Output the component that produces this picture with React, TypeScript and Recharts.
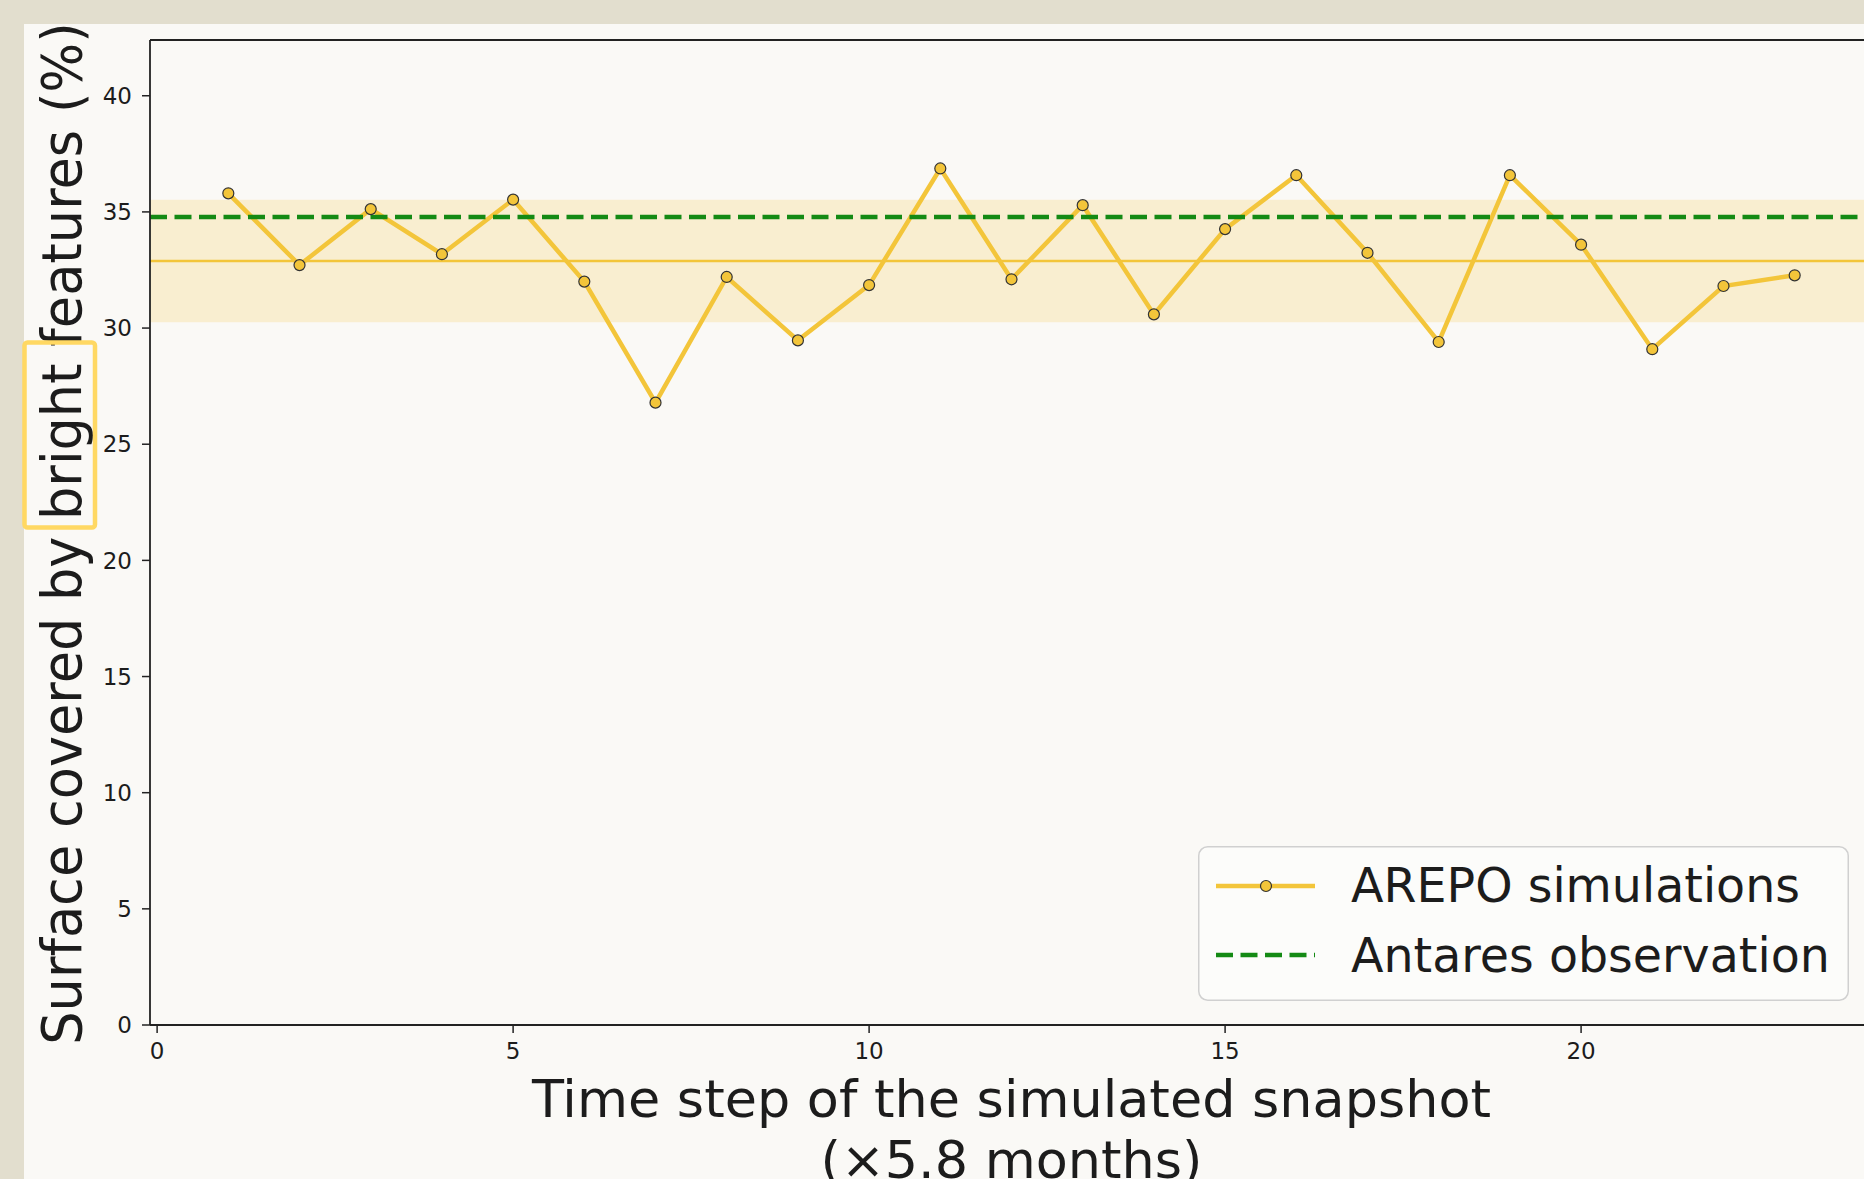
import React from 'react';
import { LineChart, Line, XAxis, YAxis, ReferenceLine, ReferenceArea, Legend } from 'recharts';

// time steps of the simulated snapshots (x 5.8 months)
const steps = [1, 2, 3, 4, 5, 6, 7, 8, 9, 10, 11, 12, 13, 14, 15, 16, 17, 18, 19, 20, 21, 22, 23];
// percentage of the surface covered by bright features
const brightCover = [
    35.80, 32.71, 35.12, 33.18, 35.53, 32.00, 26.79, 32.20, 29.47, 31.85, 36.87, 32.10,
    35.29, 30.59, 34.26, 36.58, 33.24, 29.40, 36.58, 33.59, 29.09, 31.81, 32.27,
];
const simMean = 32.89;
const simBand = [30.25, 35.52];
const antaresValue = 34.78;

const xTicks = [0, 5, 10, 15, 20];
const yTicks = [0, 5, 10, 15, 20, 25, 30, 35, 40];
const xDomain = [-0.1, 24.1];
const yDomain = [0, 42.4];

const rows = steps.map((step, i) => ({ step, value: brightCover[i] }));

const FONT = '"DejaVu Sans", sans-serif';
const GOLD = '#F3C53A';
const GREEN = '#148A14';
const INK = '#1c1c1c';
const AXIS = '#222222';

const YTitle = (props: any) => {
    const vb = props.viewBox ?? { x: 0, y: 40, width: 150, height: 985 };
    const cx = vb.x + 81;
    const cy = vb.y + vb.height / 2 + 1;
    return (
        <g>
            <text
                x={0}
                y={0}
                transform={`translate(${cx} ${cy}) rotate(-90) scale(1 1.04)`}
                textAnchor="middle"
                fontFamily={FONT}
                fontSize={52.5}
                fill={INK}
            >
                Surface covered by bright features (%)
            </text>
            {/* highlight around "bright" */}
            <rect x={vb.x + 24.5} y={cy - 191} width={70.5} height={185} rx={3} fill="none" stroke="#FFD863" strokeWidth={4.5} />
        </g>
    );
};

const XTitle = (props: any) => {
    const vb = props.viewBox ?? { x: 150, y: 1025, width: 1723, height: 154 };
    const cx = vb.x + vb.width / 2;
    return (
        <g fontFamily={FONT} fontSize={52.4} fill={INK}>
            <text x={cx} y={vb.y + 92} textAnchor="middle">Time step of the simulated snapshot</text>
            <text x={cx} y={vb.y + 153} textAnchor="middle">(×5.8 months)</text>
        </g>
    );
};

const LegendBox = () => (
    <svg width={651} height={155} style={{ display: 'block' }}>
        <rect x={0.75} y={0.75} width={649.5} height={153.5} rx={9} fill="#FCFCFA" stroke="#D0D0D0" strokeWidth={1.5} />
        <line x1={18} x2={117} y1={40} y2={40} stroke={GOLD} strokeWidth={4.5} />
        <circle cx={68} cy={40} r={5.5} fill={GOLD} stroke="#333" strokeWidth={1.2} />
        <text x={153} y={56} fontFamily={FONT} fontSize={47.5} fill={INK}>AREPO simulations</text>
        <line x1={18} x2={117} y1={109} y2={109} stroke={GREEN} strokeWidth={4.5} strokeDasharray="17 7.5" />
        <text x={153} y={126} fontFamily={FONT} fontSize={47.5} fill={INK}>Antares observation</text>
    </svg>
);

export default function App() {
    const tick = { fontFamily: FONT, fontSize: 23, fill: INK };
    return (
        <div style={{ position: 'relative', width: 1864, height: 1179, overflow: 'hidden', background: '#E2DECE' }}>
            <style>{'body{margin:0}'}</style>
            <div style={{ position: 'absolute', left: 24, top: 24, right: 0, bottom: 0, background: '#FAF9F6' }} />
            <div style={{ position: 'absolute', left: 0, top: 0 }}>
                <LineChart width={1900} height={1179} data={rows} margin={{ top: 40, right: 27, bottom: 0, left: 0 }}>
                    <XAxis
                        type="number"
                        dataKey="step"
                        domain={xDomain}
                        ticks={xTicks}
                        allowDataOverflow
                        height={154}
                        tickSize={8}
                        tickMargin={10}
                        tick={tick}
                        axisLine={{ stroke: AXIS, strokeWidth: 1.8 }}
                        tickLine={{ stroke: AXIS, strokeWidth: 1.5 }}
                        label={<XTitle />}
                    />
                    <YAxis
                        type="number"
                        domain={yDomain}
                        ticks={yTicks}
                        allowDataOverflow
                        width={150}
                        tickSize={8}
                        tickMargin={10}
                        tick={tick}
                        axisLine={{ stroke: AXIS, strokeWidth: 1.8 }}
                        tickLine={{ stroke: AXIS, strokeWidth: 1.5 }}
                        label={<YTitle />}
                    />
                    <ReferenceArea y1={simBand[0]} y2={simBand[1]} fill={GOLD} fillOpacity={0.2} stroke="none" />
                    <ReferenceLine y={simMean} stroke={GOLD} strokeWidth={2.5} />
                    <ReferenceLine y={yDomain[1]} stroke={AXIS} strokeWidth={1.8} />
                    <Line
                        dataKey="value"
                        stroke={GOLD}
                        strokeWidth={4.5}
                        dot={{ r: 5.5, fill: GOLD, stroke: '#333', strokeWidth: 1.2 }}
                        activeDot={false}
                        isAnimationActive={false}
                    />
                    <ReferenceLine y={antaresValue} stroke={GREEN} strokeWidth={4.5} strokeDasharray="17 7.5" />
                    <Legend
                        layout="horizontal"
                        align="center"
                        verticalAlign="middle"
                        content={<LegendBox />}
                        wrapperStyle={{ left: 1198, top: 846, width: 651, height: 155, margin: 0 }}
                    />
                </LineChart>
            </div>
        </div>
    );
}
